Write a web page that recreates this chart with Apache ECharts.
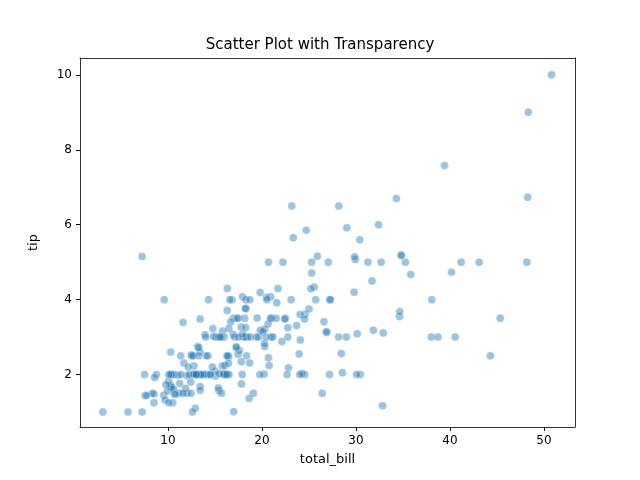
<!DOCTYPE html>
<html>
<head>
<meta charset="utf-8">
<script src="https://cdn.jsdelivr.net/npm/echarts@6/dist/echarts.min.js"></script>
<style>html,body{margin:0;padding:0;background:#fff}#main{width:640px;height:480px}</style>
</head>
<body>
<div id="main"></div>
<script>
// total_bill / tip pairs
var totalBill = [16.99,10.34,21.01,23.68,24.59,25.29,8.77,26.88,15.04,14.78,10.27,35.26,15.42,18.43,14.83,21.58,10.33,16.29,16.97,20.65,17.92,20.29,15.77,39.42,19.82,17.81,13.37,12.69,21.7,19.65,9.55,18.35,15.06,20.69,17.78,24.06,16.31,16.93,18.69,31.27,16.04,17.46,13.94,9.68,30.4,18.29,22.23,32.4,28.55,18.04,12.54,10.29,34.81,9.94,25.56,19.49,38.01,26.41,11.24,48.27,20.29,13.81,11.02,18.29,17.59,20.08,16.45,3.07,20.23,15.01,12.02,17.07,26.86,25.28,14.73,10.51,17.92,27.2,22.76,17.29,19.44,16.66,10.07,32.68,15.98,34.83,13.03,18.28,24.71,21.16,28.97,22.49,5.75,16.32,22.75,40.17,27.28,12.03,21.01,12.46,11.35,15.38,44.3,22.42,20.92,15.36,20.49,25.21,18.24,14.31,14.0,7.25,38.07,23.95,25.71,17.31,29.93,10.65,12.43,24.08,11.69,13.42,14.26,15.95,12.48,29.8,8.52,14.52,11.38,22.82,19.08,20.27,11.17,12.26,18.26,8.51,10.33,14.15,16.0,13.16,17.47,34.3,41.19,27.05,16.43,8.35,18.64,11.87,9.78,7.51,14.07,13.13,17.26,24.55,19.77,29.85,48.17,25.0,13.39,16.49,21.5,12.66,16.21,13.81,17.51,24.52,20.76,31.71,10.59,10.63,50.81,15.81,7.25,31.85,16.82,32.9,17.89,14.48,9.6,34.63,34.65,23.33,45.35,23.17,40.55,20.69,20.9,30.46,18.15,23.1,15.69,19.81,28.44,15.48,16.58,7.56,10.34,43.11,13.0,13.51,18.71,12.74,13.0,16.4,20.53,16.47,26.59,38.73,24.27,12.76,30.06,25.89,48.33,13.27,28.17,12.9,28.15,11.59,7.74,30.14,12.16,13.42,8.58,15.98,13.42,16.27,10.09,20.45,13.28,22.12,24.01,15.69,11.61,10.77,15.53,10.07,12.6,32.83,35.83,29.03,27.18,22.67,17.82,18.78];
var tip = [1.01,1.66,3.5,3.31,3.61,4.71,2.0,3.12,1.96,3.23,1.71,5.0,1.57,3.0,3.02,3.92,1.67,3.71,3.5,3.35,4.08,2.75,2.23,7.58,3.18,2.34,2.0,2.0,4.3,3.0,1.45,2.5,3.0,2.45,3.27,3.6,2.0,3.07,2.31,5.0,2.24,2.54,3.06,1.32,5.6,3.0,5.0,6.0,2.05,3.0,2.5,2.6,5.2,1.56,4.34,3.51,3.0,1.5,1.76,6.73,3.21,2.0,1.98,3.76,2.64,3.15,2.47,1.0,2.01,2.09,1.97,3.0,3.14,5.0,2.2,1.25,3.08,4.0,3.0,2.71,3.0,3.4,1.83,5.0,2.03,5.17,2.0,4.0,5.85,3.0,3.0,3.5,1.0,4.3,3.25,4.73,4.0,1.5,3.0,1.5,2.5,3.0,2.5,3.48,4.08,1.64,4.06,4.29,3.76,4.0,3.0,1.0,4.0,2.55,4.0,3.5,5.07,1.5,1.8,2.92,2.31,1.68,2.5,2.0,2.52,4.2,1.48,2.0,2.0,2.18,1.5,2.83,1.5,2.0,3.25,1.25,2.0,2.0,2.0,2.75,3.5,6.7,5.0,5.0,2.3,1.5,1.36,1.63,1.73,2.0,2.5,2.0,2.74,2.0,2.0,5.14,5.0,3.75,2.61,2.0,3.5,2.5,2.0,2.0,3.0,3.48,2.24,4.5,1.61,2.0,10.0,3.16,5.15,3.18,4.0,3.11,2.0,2.0,4.0,3.55,3.68,5.65,3.5,6.5,3.0,5.0,3.5,2.0,3.5,4.0,1.5,4.19,2.56,2.02,4.0,1.44,2.0,5.0,2.0,2.0,4.0,2.01,2.0,2.5,4.0,3.23,3.41,3.0,2.03,2.23,2.0,5.16,9.0,2.5,6.5,1.1,3.0,1.5,1.44,3.09,2.2,3.48,1.92,3.0,1.58,2.5,2.0,3.0,2.72,2.88,2.0,3.0,3.39,1.47,3.0,1.25,1.0,1.17,4.67,5.92,2.0,2.0,1.75,3.0];
var xTicks = [10, 20, 30, 40, 50];
var yTicks = [2, 4, 6, 8, 10];

var points = totalBill.map(function (v, i) { return [v, tip[i]]; });

var myChart = echarts.init(document.getElementById('main'));
var font = 'DejaVu Sans';
var frame = { show: true, onZero: false, lineStyle: { color: '#000', width: 0.8 } };
myChart.setOption({
    animation: false,
    title: {
        text: 'Scatter Plot with Transparency',
        left: 'center',
        top: 33,
        textStyle: { fontFamily: font, fontSize: 15, fontWeight: 'normal', color: '#000' }
    },
    grid: { left: 80, right: 65, top: 58, bottom: 53 },
    xAxis: [{
        type: 'value', min: 0.64, max: 53.3,
        name: 'total_bill', nameLocation: 'middle', nameGap: 26,
        nameTextStyle: { fontFamily: font, fontSize: 13, color: '#000' },
        splitLine: { show: false },
        axisLine: frame,
        axisTick: { show: true, length: 4, customValues: xTicks, lineStyle: { color: '#000' } },
        axisLabel: { customValues: xTicks, fontFamily: font, fontSize: 12, color: '#000' }
    }, {
        type: 'value', position: 'top', min: 0.64, max: 53.3,
        axisLine: frame, axisTick: { show: false }, axisLabel: { show: false }, splitLine: { show: false }
    }],
    yAxis: [{
        type: 'value', min: 0.6, max: 10.45,
        name: 'tip', nameLocation: 'middle', nameGap: 40,
        nameTextStyle: { fontFamily: font, fontSize: 13, color: '#000' },
        splitLine: { show: false },
        axisLine: frame,
        axisTick: { show: true, length: 4, customValues: yTicks, lineStyle: { color: '#000' } },
        axisLabel: { customValues: yTicks, fontFamily: font, fontSize: 12, color: '#000' }
    }, {
        type: 'value', position: 'right', min: 0.6, max: 10.45,
        axisLine: frame, axisTick: { show: false }, axisLabel: { show: false }, splitLine: { show: false }
    }],
    series: [{
        type: 'scatter',
        data: points,
        symbolSize: 8,
        itemStyle: { color: 'rgba(31,119,180,0.55)', borderColor: 'rgba(255,255,255,0.7)', borderWidth: 0.6 }
    }]
});
</script>
</body>
</html>
